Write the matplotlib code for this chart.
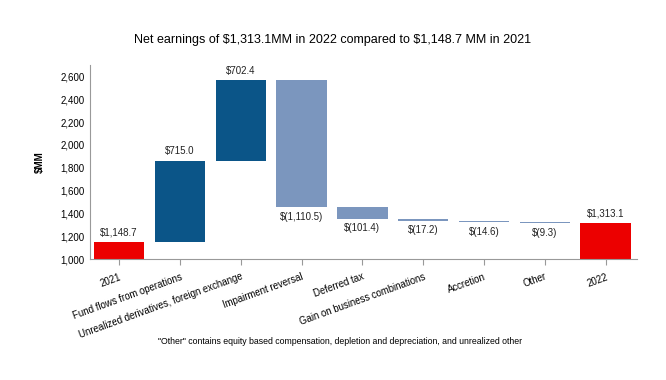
import matplotlib
matplotlib.use("Agg")
import matplotlib.pyplot as plt
import numpy as np

plt.rcParams["font.family"] = ["Liberation Sans", "DejaVu Sans"]

categories = ["2021", "Fund flows from operations",
              "Unrealized derivatives, foreign exchange", "Impairment reversal",
              "Deferred tax", "Gain on business combinations", "Accretion",
              "Other", "2022"]
changes = [1148.7, 715.0, 702.4, -1110.5, -101.4, -17.2, -14.6, -9.3, 1313.1]
value_labels = ["$1,148.7", "$715.0", "$702.4", "$(1,110.5)", "$(101.4)",
                "$(17.2)", "$(14.6)", "$(9.3)", "$1,313.1"]

red = "#EC0000"
dark_blue = "#0B5588"
light_blue = "#7B96BE"

# waterfall geometry
bottoms, heights, colors = [], [], []
running = 0.0
for i, v in enumerate(changes):
    if i == 0 or i == len(changes) - 1:
        bottoms.append(0.0)
        heights.append(v)
        colors.append(red)
        running = v
    elif v >= 0:
        bottoms.append(running)
        heights.append(v)
        colors.append(dark_blue)
        running += v
    else:
        bottoms.append(running + v)
        heights.append(-v)
        colors.append(light_blue)
        running += v

fig = plt.figure(figsize=(6.66, 3.8), dpi=100)
ax = fig.add_axes([0.135, 0.318, 0.821, 0.511])

x = np.arange(len(categories))
ax.bar(x, heights, bottom=bottoms, width=0.83, color=colors, zorder=2)

for i, v in enumerate(changes):
    lab = value_labels[i].replace("$", r"\$")
    if v >= 0:
        ax.text(x[i], bottoms[i] + heights[i] + 40, lab, ha="center",
                va="bottom", fontsize=7, color="#222222")
    else:
        ax.text(x[i], bottoms[i] - 40, lab, ha="center", va="top",
                fontsize=7, color="#222222")

ax.set_ylim(1000, 2700)
ax.set_xlim(-0.48, 8.51)
ax.set_yticks(np.arange(1000, 2601, 200))
ax.set_yticklabels([f"{t:,}" for t in range(1000, 2601, 200)], fontsize=7)
ax.set_xticks(x)
ax.set_xticklabels(categories, rotation=20, ha="right",
                   rotation_mode="anchor", fontsize=6.9)
ax.tick_params(axis="y", length=0, pad=4)
ax.tick_params(axis="x", length=4, color="#999999", pad=5)

for s in ["top", "right"]:
    ax.spines[s].set_visible(False)
ax.spines["left"].set_color("#999999")
ax.spines["bottom"].set_color("#999999")

ax.set_ylabel(r"\$MM", fontsize=7, fontweight="bold", labelpad=11)

fig.text(0.5, 0.895, r"Net earnings of \$1,313.1MM in 2022 compared to \$1,148.7 MM in 2021",
         ha="center", va="center", fontsize=9)
fig.text(0.51, 0.1,
         '"Other" contains equity based compensation, depletion and depreciation, and unrealized other',
         ha="center", va="center", fontsize=6.3)

fig.savefig("out.png", dpi=100)
